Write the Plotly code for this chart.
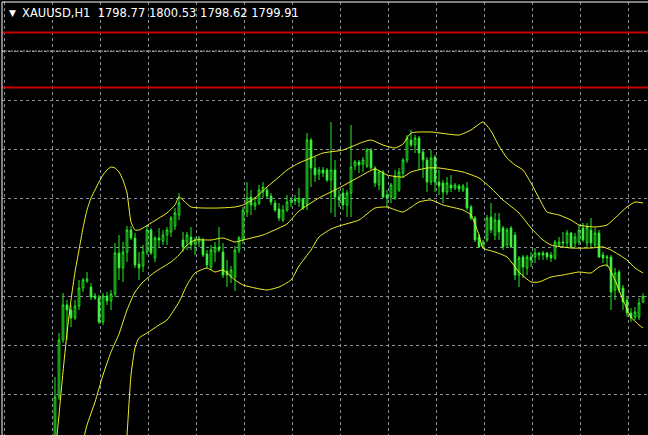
import plotly.graph_objects as go

# ---------------- data ----------------
symbol_label = "XAUUSD,H1"
last_ohlc_labels = ["1798.77", "1800.53", "1798.62", "1799.91"]

bar_index = list(range(148))

open_ = [
    1770.2, 1779.8, 1791.2, 1798.2, 1797.2, 1795.6, 1798.0, 1801.6, 1803.0, 1801.8,
    1800.0, 1799.6, 1794.8, 1800.0, 1799.0, 1800.4, 1808.6, 1805.6, 1808.8, 1813.2,
    1811.6, 1806.4, 1806.0, 1808.8, 1813.2, 1807.6, 1811.6, 1811.0, 1812.2, 1812.8,
    1814.0, 1816.2, 1811.2, 1810.8, 1811.8, 1810.4, 1810.8, 1811.2, 1808.4, 1805.8,
    1808.8, 1809.8, 1808.8, 1805.0, 1803.8, 1803.8, 1809.2, 1811.2, 1816.8, 1819.8,
    1818.0, 1818.6, 1820.8, 1821.2, 1820.0, 1818.6, 1817.4, 1815.2, 1817.2, 1818.8,
    1819.4, 1818.8, 1819.4, 1818.2, 1831.2, 1825.6, 1824.4, 1825.2, 1825.2, 1823.2,
    1825.2, 1819.8, 1820.6, 1818.2, 1820.6, 1826.0, 1826.8, 1826.4, 1826.0, 1829.2,
    1825.6, 1822.2, 1824.8, 1820.2, 1819.8, 1819.6, 1821.2, 1824.6, 1827.2, 1831.2,
    1830.2, 1831.6, 1828.8, 1827.2, 1822.8, 1827.8, 1822.8, 1822.6, 1820.8, 1822.2,
    1821.6, 1822.0, 1821.2, 1821.6, 1817.8, 1815.6, 1811.8, 1809.8, 1811.2, 1815.8,
    1812.2, 1815.2, 1813.6, 1810.2, 1813.6, 1812.2, 1804.2, 1807.8, 1805.6, 1807.8,
    1807.8, 1808.2, 1808.6, 1808.6, 1808.2, 1807.6, 1810.2, 1810.8, 1810.6, 1812.6,
    1810.6, 1810.8, 1813.6, 1810.6, 1813.2, 1810.2, 1812.6, 1808.2, 1807.6, 1807.8,
    1801.2, 1804.8, 1801.6, 1799.2, 1796.6, 1795.8, 1795.8, 1798.77,
]
high_ = [
    1783.8, 1792.6, 1800.6, 1799.2, 1798.2, 1799.2, 1803.2, 1803.6, 1804.8, 1802.6,
    1800.6, 1800.2, 1800.6, 1800.8, 1801.2, 1810.6, 1812.2, 1810.8, 1814.0, 1814.0,
    1812.6, 1808.8, 1810.2, 1814.2, 1813.6, 1812.0, 1813.6, 1813.2, 1813.8, 1816.0,
    1817.6, 1820.6, 1812.8, 1812.8, 1813.8, 1811.8, 1812.0, 1811.6, 1809.2, 1810.2,
    1810.8, 1813.8, 1810.6, 1807.2, 1806.0, 1810.0, 1812.0, 1817.8, 1822.8, 1821.2,
    1819.8, 1822.2, 1822.8, 1821.6, 1820.6, 1819.2, 1818.6, 1818.2, 1820.2, 1819.8,
    1820.2, 1821.6, 1819.6, 1832.6, 1831.6, 1827.8, 1825.8, 1825.8, 1825.6, 1834.8,
    1827.2, 1821.2, 1821.6, 1821.2, 1834.2, 1827.2, 1827.2, 1827.8, 1829.6, 1829.6,
    1826.0, 1825.2, 1825.2, 1821.2, 1822.6, 1825.2, 1825.6, 1827.6, 1832.2, 1833.2,
    1832.2, 1832.0, 1829.2, 1827.8, 1829.2, 1828.2, 1825.2, 1823.2, 1823.8, 1824.2,
    1822.6, 1822.4, 1822.4, 1822.8, 1818.2, 1816.0, 1812.4, 1811.2, 1816.2, 1818.6,
    1816.6, 1816.6, 1814.0, 1813.6, 1814.0, 1812.8, 1808.0, 1808.2, 1808.2, 1808.8,
    1809.6, 1808.8, 1809.0, 1808.8, 1808.8, 1811.2, 1811.8, 1812.8, 1813.2, 1812.8,
    1812.6, 1814.2, 1814.6, 1814.6, 1815.6, 1813.6, 1813.2, 1808.8, 1808.2, 1808.2,
    1805.6, 1805.2, 1802.2, 1799.8, 1797.6, 1797.8, 1799.6, 1800.53,
]
low_ = [
    1769.2, 1779.2, 1790.6, 1791.2, 1793.8, 1795.2, 1797.2, 1800.8, 1802.6, 1799.2,
    1799.2, 1794.4, 1794.2, 1798.2, 1797.2, 1799.8, 1803.2, 1802.8, 1806.8, 1811.2,
    1805.6, 1803.2, 1804.8, 1808.2, 1808.2, 1806.8, 1809.8, 1810.2, 1810.2, 1811.8,
    1813.2, 1815.2, 1808.8, 1809.2, 1809.2, 1808.2, 1809.8, 1807.8, 1805.6, 1805.2,
    1806.8, 1808.8, 1803.6, 1801.8, 1802.6, 1801.0, 1808.6, 1810.4, 1815.8, 1816.2,
    1817.2, 1818.2, 1819.6, 1819.6, 1818.2, 1816.8, 1815.0, 1814.8, 1816.8, 1817.8,
    1818.2, 1817.8, 1817.2, 1817.2, 1821.8, 1822.8, 1823.2, 1823.8, 1822.8, 1816.6,
    1815.8, 1817.8, 1817.2, 1815.8, 1815.8, 1825.2, 1824.6, 1824.8, 1825.6, 1825.2,
    1821.8, 1821.2, 1819.6, 1817.8, 1818.6, 1819.2, 1820.8, 1823.6, 1826.6, 1829.8,
    1828.6, 1825.2, 1823.6, 1820.8, 1822.2, 1820.8, 1820.2, 1818.6, 1820.2, 1820.8,
    1821.2, 1820.8, 1820.8, 1817.2, 1815.2, 1810.8, 1809.6, 1809.4, 1810.8, 1812.6,
    1811.2, 1811.2, 1809.2, 1809.8, 1809.6, 1803.2, 1801.8, 1803.6, 1804.2, 1805.8,
    1806.6, 1807.2, 1807.2, 1807.2, 1806.8, 1807.2, 1809.8, 1809.8, 1809.8, 1809.6,
    1809.8, 1810.2, 1810.8, 1809.6, 1809.8, 1809.8, 1807.6, 1806.6, 1805.8, 1797.2,
    1799.2, 1800.6, 1797.2, 1795.8, 1794.8, 1795.2, 1795.2, 1798.62,
]
close_ = [
    1779.8, 1791.2, 1798.2, 1797.2, 1795.6, 1798.0, 1801.6, 1803.2, 1803.4, 1799.8,
    1799.6, 1794.8, 1800.0, 1799.0, 1800.4, 1808.6, 1805.6, 1808.8, 1813.2, 1811.6,
    1806.2, 1805.6, 1808.8, 1813.2, 1808.6, 1811.6, 1811.2, 1812.2, 1813.2, 1815.6,
    1816.6, 1818.6, 1809.8, 1812.2, 1810.2, 1811.2, 1811.6, 1808.2, 1806.2, 1809.2,
    1809.8, 1809.2, 1804.2, 1804.2, 1805.2, 1809.2, 1811.6, 1817.2, 1819.6, 1818.2,
    1818.6, 1821.2, 1821.8, 1820.0, 1818.8, 1817.2, 1815.6, 1817.2, 1818.8, 1819.2,
    1819.0, 1819.6, 1817.6, 1831.2, 1825.6, 1824.2, 1825.2, 1824.6, 1823.2, 1825.2,
    1819.8, 1819.2, 1818.2, 1820.6, 1825.8, 1826.8, 1826.2, 1827.2, 1829.2, 1825.6,
    1822.6, 1824.8, 1819.8, 1819.6, 1822.2, 1824.0, 1824.8, 1827.2, 1831.6, 1830.2,
    1831.6, 1828.6, 1827.2, 1822.8, 1827.6, 1822.8, 1822.0, 1820.8, 1822.6, 1821.6,
    1822.2, 1821.4, 1822.0, 1817.6, 1815.6, 1811.2, 1809.8, 1810.8, 1815.6, 1813.2,
    1815.2, 1812.8, 1809.8, 1813.2, 1809.8, 1804.2, 1807.6, 1805.8, 1807.8, 1807.2,
    1808.6, 1808.6, 1808.2, 1807.8, 1807.6, 1810.8, 1810.8, 1810.6, 1812.6, 1809.8,
    1811.8, 1813.2, 1811.2, 1813.8, 1810.6, 1812.6, 1807.8, 1807.6, 1807.8, 1800.8,
    1804.6, 1801.2, 1798.8, 1796.6, 1795.6, 1796.8, 1798.6, 1799.91,
]

# Bollinger bands, sampled along the bars
upper_x = [0, 1, 2, 3, 4, 5, 6, 7, 8, 9, 10, 11, 12, 13, 14, 15, 16, 17, 18, 19, 20, 21, 22,
           24, 26, 28, 30, 31, 32, 34, 37, 41, 45, 47, 50, 53, 56, 58, 61, 64, 67, 72, 77,
           79, 82, 85, 87, 89, 94, 101, 104, 107, 109, 111, 113, 115, 117, 119, 121, 123,
           126, 129, 131, 135, 138, 140, 143, 145, 147]
upper_band = [1768.2, 1776.2, 1784.8, 1792.6, 1799.2, 1804.8, 1809.2, 1813.6, 1817.2, 1819.6,
              1821.2, 1822.8, 1824.2, 1825.2, 1825.8, 1825.6, 1824.8, 1823.2, 1820.6, 1814.8,
              1813.2, 1813.2, 1813.6, 1814.6, 1815.6, 1816.6, 1818.2, 1819.8, 1819.2, 1817.8,
              1817.6, 1817.6, 1817.8, 1818.2, 1819.6, 1821.8, 1823.8, 1825.2, 1826.6, 1827.6,
              1828.6, 1829.2, 1830.8, 1831.2, 1830.2, 1829.6, 1830.4, 1832.6, 1832.8, 1832.2,
              1833.2, 1834.8, 1833.0, 1830.0, 1827.6, 1826.2, 1825.2, 1822.6, 1819.6, 1816.8,
              1816.2, 1815.2, 1814.2, 1813.8, 1814.2, 1815.6, 1817.8, 1818.8, 1818.6]
mid_x = [7, 8, 10, 12, 14, 16, 18, 20, 22, 25, 29, 31, 33, 35, 39, 42, 45, 47, 52, 56, 58, 61,
         66, 71, 76, 80, 83, 87, 89, 93, 96, 102, 106, 109, 112, 116, 119, 122, 124, 129,
         134, 137, 139, 143, 145, 147]
mid_band = [1770.8, 1774.2, 1778.8, 1784.2, 1788.8, 1792.4, 1797.2, 1800.8, 1802.8, 1804.8,
            1806.8, 1808.2, 1810.2, 1811.2, 1811.2, 1811.6, 1810.8, 1811.2, 1812.2, 1813.6,
            1814.4, 1817.0, 1819.6, 1821.6, 1823.8, 1825.4, 1824.2, 1823.8, 1824.8, 1825.6,
            1825.6, 1824.8, 1823.6, 1821.6, 1819.2, 1816.6, 1813.6, 1811.2, 1810.2, 1809.6,
            1809.6, 1809.8, 1809.2, 1807.2, 1805.6, 1804.6]
lower_x = [17, 18, 19, 20, 21, 23, 26, 28, 31, 33, 35, 38, 40, 42, 45, 47, 50, 53, 56, 59,
           61, 64, 66, 69, 71, 76, 80, 83, 87, 91, 94, 97, 102, 104, 106, 107, 110, 113, 116,
           119, 121, 124, 127, 131, 134, 136, 138, 140, 142, 144, 146, 147]
lower_band = [1763.2, 1772.2, 1784.2, 1789.6, 1791.6, 1792.6, 1794.2, 1795.2, 1798.8, 1802.2,
              1804.6, 1805.6, 1804.8, 1805.2, 1803.2, 1802.2, 1801.6, 1801.2, 1801.8, 1803.2,
              1806.0, 1809.2, 1811.8, 1813.4, 1814.0, 1815.2, 1817.6, 1817.8, 1816.8, 1818.8,
              1819.2, 1818.2, 1817.2, 1816.2, 1812.2, 1809.6, 1808.8, 1807.8, 1804.8, 1802.8,
              1802.8, 1803.8, 1804.2, 1804.8, 1804.6, 1805.8, 1806.2, 1803.2, 1799.2, 1795.8,
              1794.2, 1793.6]

red_levels = [1852.7, 1841.7]
dotted_level = 1849.0

# ---------------- styling ----------------
W, H = 648, 435
ML, MT = 2, 2
GREEN = "#22ee22"
GRID = "#8a8f99"

fig = go.Figure()

for xs, ys in ((upper_x, upper_band), (mid_x, mid_band), (lower_x, lower_band)):
    fig.add_trace(go.Scatter(x=xs, y=ys, mode="lines",
                             line=dict(color="#f2f22a", width=1, shape="spline", smoothing=0.5),
                             hoverinfo="skip"))

fig.add_trace(go.Candlestick(
    x=bar_index, open=open_, high=high_, low=low_, close=close_,
    increasing=dict(line=dict(color=GREEN, width=1), fillcolor="#000000"),
    decreasing=dict(line=dict(color=GREEN, width=1), fillcolor="#b4ffb4"),
    whiskerwidth=0,
))

shapes = []
for lv in red_levels:
    shapes.append(dict(type="line", xref="paper", x0=0, x1=1, yref="y", y0=lv, y1=lv,
                       line=dict(color="#c80000", width=2)))
shapes.append(dict(type="line", xref="paper", x0=0, x1=1, yref="y", y0=dotted_level, y1=dotted_level,
                   line=dict(color="#a8a8a8", width=1, dash="2px,1px")))
# white frame top & left
shapes.append(dict(type="line", xref="paper", yref="paper", x0=0, x1=0, y0=0, y1=1,
                   line=dict(color="#ffffff", width=1)))
shapes.append(dict(type="line", xref="paper", yref="paper", x0=0, x1=1, y0=1, y1=1,
                   line=dict(color="#ffffff", width=1)))

plot_w = W - ML
plot_h = H - MT


def px(xp):
    return (xp - ML) / plot_w


def py(yp):
    return (H - yp) / plot_h


annotations = [
    dict(text="▼", x=px(7), y=py(13), xref="paper", yref="paper", xanchor="left",
         yanchor="middle", showarrow=False, font=dict(color="#ffffff", size=9, family="DejaVu Sans")),
    dict(text=symbol_label + "\u00a0\u00a0" + " ".join(last_ohlc_labels),
         x=px(20), y=py(13), xref="paper", yref="paper", xanchor="left", yanchor="middle",
         showarrow=False, font=dict(color="#ffffff", size=11.5, family="DejaVu Sans")),
]

fig.update_layout(
    width=W, height=H,
    margin=dict(l=ML, r=0, t=MT, b=0, pad=0),
    paper_bgcolor="#000000", plot_bgcolor="#000000",
    showlegend=False,
    hovermode=False,
    shapes=shapes, annotations=annotations,
    boxgap=0.4,
    xaxis=dict(range=[-13.25, 148.25], tickmode="linear", tick0=-0.75, dtick=12,
               showgrid=True, gridcolor=GRID, gridwidth=1, griddash="3px,3px",
               showticklabels=False, zeroline=False, showline=False, ticks="",
               rangeslider=dict(visible=False)),
    yaxis=dict(range=[1772.2, 1858.8], tickmode="linear", tick0=1800, dtick=9.8,
               showgrid=True, gridcolor=GRID, gridwidth=1, griddash="3px,3px",
               showticklabels=False, zeroline=False, showline=False, ticks=""),
)

fig.write_html("out.html",
               config={"displayModeBar": False, "staticPlot": True},
               post_script="document.body.style.margin='0';document.body.style.padding='0';"
                           "document.body.style.overflow='hidden';"
                           "document.body.style.background='#000';")
